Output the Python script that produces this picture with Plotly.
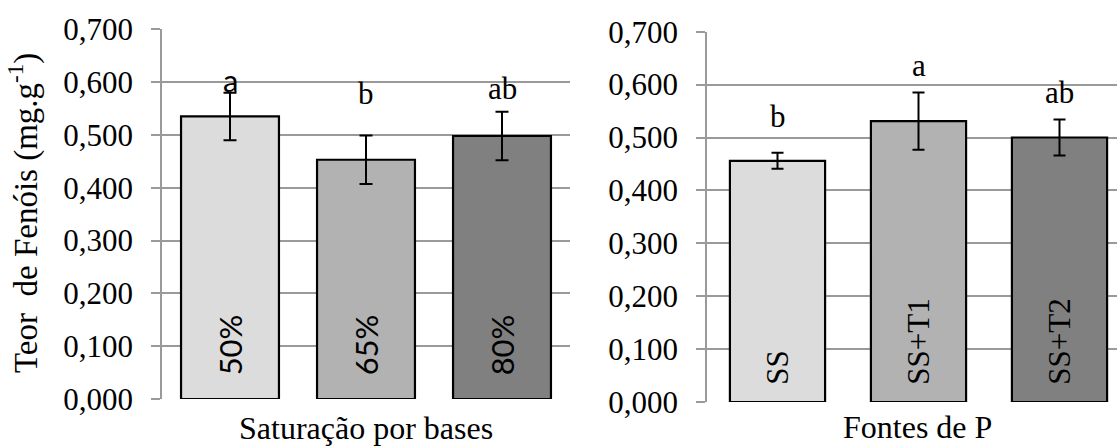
import plotly.graph_objects as go

# Saturação por bases
sat_categories = ["50%", "65%", "80%"]
sat_values = [0.535, 0.453, 0.498]
sat_errors = [0.045, 0.046, 0.046]
sat_letters = ["a", "b", "ab"]

# Fontes de P
src_categories = ["SS", "SS+T1", "SS+T2"]
src_values = [0.456, 0.531, 0.500]
src_errors = [0.015, 0.054, 0.034]
src_letters = ["b", "a", "ab"]

y_ticks = [0.0, 0.1, 0.2, 0.3, 0.4, 0.5, 0.6, 0.7]
y_ticktext = ["0,000", "0,100", "0,200", "0,300", "0,400", "0,500", "0,600", "0,700"]

# vertical placement (data units) of the significance letters
sat_letter_y = [0.604, 0.578, 0.587]
src_letter_y = [0.539, 0.637, 0.586]

W, H = 1117, 446
bar_colors = ["#dcdcdc", "#b2b2b2", "#808080"]
SERIF = "Liberation Serif"
SANS = "Lato"
GRID = "#9a9a9a"


def px(x):
    return x / W


def py(y):
    return 1 - y / H


fig = go.Figure()

fig.add_trace(go.Bar(
    x=[0, 1, 2], y=sat_values, width=0.72,
    marker=dict(color=bar_colors, line=dict(color="black", width=2.2)),
    error_y=dict(type="data", array=sat_errors, color="black", thickness=2, width=6.5),
    xaxis="x", yaxis="y", showlegend=False,
))
fig.add_trace(go.Bar(
    x=[0, 1, 2], y=src_values, width=0.675,
    marker=dict(color=bar_colors, line=dict(color="black", width=2.2)),
    error_y=dict(type="data", array=src_errors, color="black", thickness=2, width=6),
    xaxis="x2", yaxis="y2", showlegend=False,
))

annotations = []
# significance letters above the error bars
for i, (ly, t) in enumerate(zip(sat_letter_y, sat_letters)):
    font = dict(family=SANS if t == "a" else SERIF, size=31, color="black")
    annotations.append(dict(x=i, y=ly, xref="x", yref="y", text=t, showarrow=False,
                            yanchor="middle", font=font))
for i, (ly, t) in enumerate(zip(src_letter_y, src_letters)):
    annotations.append(dict(x=i, y=ly, xref="x2", yref="y2", text=t, showarrow=False,
                            yanchor="middle", font=dict(family=SERIF, size=31, color="black")))
# rotated category names inside the bars
for i, c in enumerate(sat_categories):
    annotations.append(dict(x=i, y=0.040, xref="x", yref="y", text=c, showarrow=False,
                            textangle=-90, yanchor="bottom",
                            font=dict(family=SANS, size=31, color="black")))
for i, c in enumerate(src_categories):
    annotations.append(dict(x=i, y=0.028, xref="x2", yref="y2", text=c, showarrow=False,
                            textangle=-90, yanchor="bottom",
                            font=dict(family=SERIF, size=31, color="black")))
# axis titles
title_font = dict(family=SERIF, size=32, color="black")
annotations.append(dict(x=px(366), y=py(428), xref="paper", yref="paper",
                        text="Saturação por bases", showarrow=False,
                        xanchor="center", yanchor="middle", font=title_font))
annotations.append(dict(x=px(917), y=py(427), xref="paper", yref="paper",
                        text="Fontes de P", showarrow=False,
                        xanchor="center", yanchor="middle", font=title_font))
annotations.append(dict(x=px(24), y=py(213), xref="paper", yref="paper",
                        text="Teor  de Fenóis (mg.g<sup>-1</sup>)", showarrow=False,
                        textangle=-90, xanchor="center", yanchor="middle",
                        font=dict(family=SERIF, size=33, color="black")))

axis_common = dict(
    tickvals=y_ticks, ticktext=y_ticktext, range=[0, 0.7], automargin=False,
    showgrid=True, gridcolor=GRID, gridwidth=1.5, zeroline=False,
    showline=True, linecolor=GRID, linewidth=1.5,
    ticks="outside", ticklen=9, tickcolor=GRID, tickwidth=1.5,
    ticklabelstandoff=12,
    tickfont=dict(family=SERIF, size=31, color="black"),
)
xaxis_common = dict(showticklabels=False, ticks="", showgrid=False, zeroline=False,
                    automargin=False)

fig.update_layout(
    width=W, height=H,
    margin=dict(l=0, r=0, t=0, b=0),
    paper_bgcolor="white", plot_bgcolor="white",
    annotations=annotations,
    xaxis=dict(domain=[px(162), px(570)], range=[-0.5, 2.5], anchor="y", **xaxis_common),
    yaxis=dict(domain=[py(399), py(29.3)], anchor="x", **axis_common),
    xaxis2=dict(domain=[px(707), 1.0], range=[-0.5, 410 / 141 - 0.5], anchor="y2",
                **xaxis_common),
    yaxis2=dict(domain=[py(402), py(31.7)], anchor="x2", **axis_common),
)

fig.write_html("out.html")
